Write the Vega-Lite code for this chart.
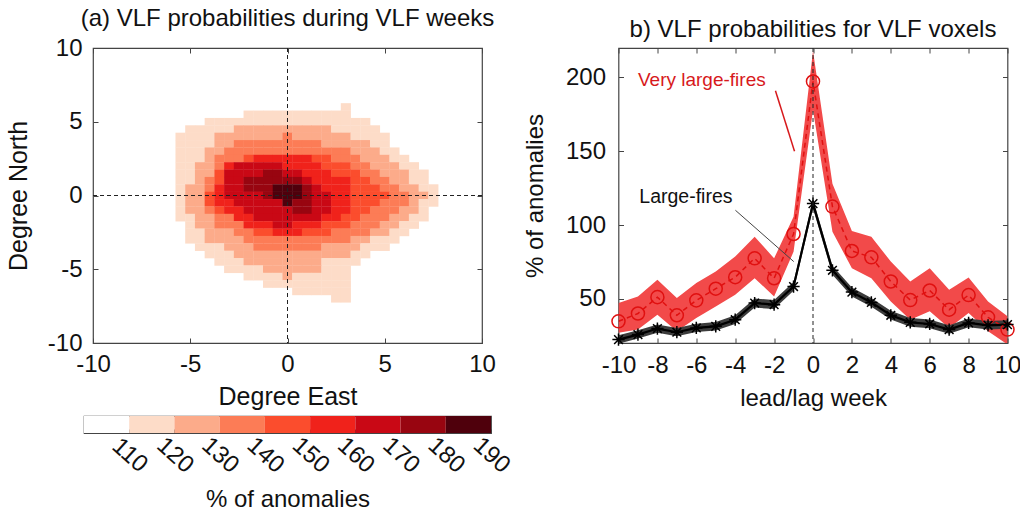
{
  "$schema": "https://vega.github.io/schema/vega-lite/v6.json",
  "background": "white",
  "padding": {"left": 5, "top": 5, "right": 0, "bottom": 5},
  "config": {
    "font": "Liberation Sans",
    "view": {"stroke": "#444", "strokeWidth": 1.2},
    "axis": {"grid": false, "domain": false, "labelFont": "Liberation Sans", "titleFont": "Liberation Sans", "labelFontSize": 24, "titleFontSize": 24, "titleFontWeight": "normal", "labelColor": "#111", "titleColor": "#111", "tickColor": "#444", "tickSize": -5, "labelPadding": 16, "titlePadding": 10, "labelOverlap": false, "labelFlush": false, "labelExpr": "'' + datum.value"},
    "title": {"font": "Liberation Sans", "fontSize": 24, "fontWeight": "normal", "color": "#111", "offset": 5.5}
  },
  "hconcat": [
    {
      "spacing": 73,
      "bounds": "flush",
      "center": true,
      "vconcat": [
        {
          "title": "(a) VLF probabilities during VLF weeks",
          "width": 389,
          "height": 295,
          "data": {"values": [
            {"lon":3,"lat":6,"pct":115},
            {"lon":-2,"lat":5.5,"pct":115},{"lon":-1.5,"lat":5.5,"pct":115},{"lon":-1,"lat":5.5,"pct":115},{"lon":-0.5,"lat":5.5,"pct":115},{"lon":0,"lat":5.5,"pct":115},{"lon":0.5,"lat":5.5,"pct":115},{"lon":1,"lat":5.5,"pct":115},{"lon":1.5,"lat":5.5,"pct":115},{"lon":2,"lat":5.5,"pct":115},{"lon":2.5,"lat":5.5,"pct":115},{"lon":3,"lat":5.5,"pct":115},
            {"lon":-4,"lat":5,"pct":115},{"lon":-3.5,"lat":5,"pct":115},{"lon":-3,"lat":5,"pct":115},{"lon":-2.5,"lat":5,"pct":115},{"lon":-2,"lat":5,"pct":115},{"lon":-1.5,"lat":5,"pct":115},{"lon":-1,"lat":5,"pct":115},{"lon":-0.5,"lat":5,"pct":115},{"lon":0,"lat":5,"pct":115},{"lon":0.5,"lat":5,"pct":115},{"lon":1,"lat":5,"pct":115},{"lon":1.5,"lat":5,"pct":115},{"lon":2,"lat":5,"pct":115},{"lon":2.5,"lat":5,"pct":115},{"lon":3,"lat":5,"pct":115},{"lon":3.5,"lat":5,"pct":115},{"lon":4,"lat":5,"pct":115},
            {"lon":-5,"lat":4.5,"pct":115},{"lon":-4.5,"lat":4.5,"pct":115},{"lon":-4,"lat":4.5,"pct":115},{"lon":-3.5,"lat":4.5,"pct":115},{"lon":-3,"lat":4.5,"pct":115},{"lon":-2.5,"lat":4.5,"pct":125},{"lon":-2,"lat":4.5,"pct":125},{"lon":-1.5,"lat":4.5,"pct":125},{"lon":-1,"lat":4.5,"pct":125},{"lon":-0.5,"lat":4.5,"pct":125},{"lon":0,"lat":4.5,"pct":125},{"lon":0.5,"lat":4.5,"pct":125},{"lon":1,"lat":4.5,"pct":125},{"lon":1.5,"lat":4.5,"pct":125},{"lon":2,"lat":4.5,"pct":125},{"lon":2.5,"lat":4.5,"pct":115},{"lon":3,"lat":4.5,"pct":115},{"lon":3.5,"lat":4.5,"pct":115},{"lon":4,"lat":4.5,"pct":115},{"lon":4.5,"lat":4.5,"pct":115},
            {"lon":-5.5,"lat":4,"pct":115},{"lon":-5,"lat":4,"pct":115},{"lon":-4.5,"lat":4,"pct":115},{"lon":-4,"lat":4,"pct":115},{"lon":-3.5,"lat":4,"pct":125},{"lon":-3,"lat":4,"pct":125},{"lon":-2.5,"lat":4,"pct":125},{"lon":-2,"lat":4,"pct":125},{"lon":-1.5,"lat":4,"pct":125},{"lon":-1,"lat":4,"pct":125},{"lon":-0.5,"lat":4,"pct":125},{"lon":0,"lat":4,"pct":135},{"lon":0.5,"lat":4,"pct":125},{"lon":1,"lat":4,"pct":125},{"lon":1.5,"lat":4,"pct":125},{"lon":2,"lat":4,"pct":125},{"lon":2.5,"lat":4,"pct":125},{"lon":3,"lat":4,"pct":125},{"lon":3.5,"lat":4,"pct":115},{"lon":4,"lat":4,"pct":115},{"lon":4.5,"lat":4,"pct":115},{"lon":5,"lat":4,"pct":115},
            {"lon":-5.5,"lat":3.5,"pct":115},{"lon":-5,"lat":3.5,"pct":115},{"lon":-4.5,"lat":3.5,"pct":115},{"lon":-4,"lat":3.5,"pct":115},{"lon":-3.5,"lat":3.5,"pct":125},{"lon":-3,"lat":3.5,"pct":125},{"lon":-2.5,"lat":3.5,"pct":135},{"lon":-2,"lat":3.5,"pct":135},{"lon":-1.5,"lat":3.5,"pct":135},{"lon":-1,"lat":3.5,"pct":135},{"lon":-0.5,"lat":3.5,"pct":135},{"lon":0,"lat":3.5,"pct":135},{"lon":0.5,"lat":3.5,"pct":135},{"lon":1,"lat":3.5,"pct":135},{"lon":1.5,"lat":3.5,"pct":135},{"lon":2,"lat":3.5,"pct":125},{"lon":2.5,"lat":3.5,"pct":125},{"lon":3,"lat":3.5,"pct":125},{"lon":3.5,"lat":3.5,"pct":125},{"lon":4,"lat":3.5,"pct":125},{"lon":4.5,"lat":3.5,"pct":115},{"lon":5,"lat":3.5,"pct":115},
            {"lon":-5.5,"lat":3,"pct":115},{"lon":-5,"lat":3,"pct":115},{"lon":-4.5,"lat":3,"pct":115},{"lon":-4,"lat":3,"pct":125},{"lon":-3.5,"lat":3,"pct":125},{"lon":-3,"lat":3,"pct":135},{"lon":-2.5,"lat":3,"pct":135},{"lon":-2,"lat":3,"pct":135},{"lon":-1.5,"lat":3,"pct":135},{"lon":-1,"lat":3,"pct":135},{"lon":-0.5,"lat":3,"pct":135},{"lon":0,"lat":3,"pct":135},{"lon":0.5,"lat":3,"pct":135},{"lon":1,"lat":3,"pct":135},{"lon":1.5,"lat":3,"pct":135},{"lon":2,"lat":3,"pct":135},{"lon":2.5,"lat":3,"pct":135},{"lon":3,"lat":3,"pct":135},{"lon":3.5,"lat":3,"pct":125},{"lon":4,"lat":3,"pct":125},{"lon":4.5,"lat":3,"pct":125},{"lon":5,"lat":3,"pct":115},{"lon":5.5,"lat":3,"pct":115},
            {"lon":-5.5,"lat":2.5,"pct":115},{"lon":-5,"lat":2.5,"pct":115},{"lon":-4.5,"lat":2.5,"pct":115},{"lon":-4,"lat":2.5,"pct":125},{"lon":-3.5,"lat":2.5,"pct":135},{"lon":-3,"lat":2.5,"pct":135},{"lon":-2.5,"lat":2.5,"pct":135},{"lon":-2,"lat":2.5,"pct":145},{"lon":-1.5,"lat":2.5,"pct":155},{"lon":-1,"lat":2.5,"pct":155},{"lon":-0.5,"lat":2.5,"pct":155},{"lon":0,"lat":2.5,"pct":155},{"lon":0.5,"lat":2.5,"pct":155},{"lon":1,"lat":2.5,"pct":155},{"lon":1.5,"lat":2.5,"pct":145},{"lon":2,"lat":2.5,"pct":145},{"lon":2.5,"lat":2.5,"pct":135},{"lon":3,"lat":2.5,"pct":135},{"lon":3.5,"lat":2.5,"pct":135},{"lon":4,"lat":2.5,"pct":125},{"lon":4.5,"lat":2.5,"pct":125},{"lon":5,"lat":2.5,"pct":125},{"lon":5.5,"lat":2.5,"pct":115},{"lon":6,"lat":2.5,"pct":115},
            {"lon":-5.5,"lat":2,"pct":115},{"lon":-5,"lat":2,"pct":115},{"lon":-4.5,"lat":2,"pct":125},{"lon":-4,"lat":2,"pct":125},{"lon":-3.5,"lat":2,"pct":135},{"lon":-3,"lat":2,"pct":155},{"lon":-2.5,"lat":2,"pct":165},{"lon":-2,"lat":2,"pct":165},{"lon":-1.5,"lat":2,"pct":165},{"lon":-1,"lat":2,"pct":165},{"lon":-0.5,"lat":2,"pct":165},{"lon":0,"lat":2,"pct":155},{"lon":0.5,"lat":2,"pct":155},{"lon":1,"lat":2,"pct":155},{"lon":1.5,"lat":2,"pct":155},{"lon":2,"lat":2,"pct":145},{"lon":2.5,"lat":2,"pct":145},{"lon":3,"lat":2,"pct":145},{"lon":3.5,"lat":2,"pct":135},{"lon":4,"lat":2,"pct":135},{"lon":4.5,"lat":2,"pct":125},{"lon":5,"lat":2,"pct":125},{"lon":5.5,"lat":2,"pct":125},{"lon":6,"lat":2,"pct":115},{"lon":6.5,"lat":2,"pct":115},
            {"lon":-5.5,"lat":1.5,"pct":115},{"lon":-5,"lat":1.5,"pct":115},{"lon":-4.5,"lat":1.5,"pct":125},{"lon":-4,"lat":1.5,"pct":125},{"lon":-3.5,"lat":1.5,"pct":145},{"lon":-3,"lat":1.5,"pct":165},{"lon":-2.5,"lat":1.5,"pct":165},{"lon":-2,"lat":1.5,"pct":165},{"lon":-1.5,"lat":1.5,"pct":165},{"lon":-1,"lat":1.5,"pct":175},{"lon":-0.5,"lat":1.5,"pct":175},{"lon":0,"lat":1.5,"pct":165},{"lon":0.5,"lat":1.5,"pct":165},{"lon":1,"lat":1.5,"pct":155},{"lon":1.5,"lat":1.5,"pct":155},{"lon":2,"lat":1.5,"pct":155},{"lon":2.5,"lat":1.5,"pct":145},{"lon":3,"lat":1.5,"pct":145},{"lon":3.5,"lat":1.5,"pct":145},{"lon":4,"lat":1.5,"pct":135},{"lon":4.5,"lat":1.5,"pct":135},{"lon":5,"lat":1.5,"pct":125},{"lon":5.5,"lat":1.5,"pct":125},{"lon":6,"lat":1.5,"pct":125},{"lon":6.5,"lat":1.5,"pct":115},{"lon":7,"lat":1.5,"pct":115},
            {"lon":-5.5,"lat":1,"pct":115},{"lon":-5,"lat":1,"pct":115},{"lon":-4.5,"lat":1,"pct":125},{"lon":-4,"lat":1,"pct":135},{"lon":-3.5,"lat":1,"pct":145},{"lon":-3,"lat":1,"pct":165},{"lon":-2.5,"lat":1,"pct":165},{"lon":-2,"lat":1,"pct":175},{"lon":-1.5,"lat":1,"pct":175},{"lon":-1,"lat":1,"pct":175},{"lon":-0.5,"lat":1,"pct":175},{"lon":0,"lat":1,"pct":175},{"lon":0.5,"lat":1,"pct":175},{"lon":1,"lat":1,"pct":165},{"lon":1.5,"lat":1,"pct":155},{"lon":2,"lat":1,"pct":155},{"lon":2.5,"lat":1,"pct":155},{"lon":3,"lat":1,"pct":155},{"lon":3.5,"lat":1,"pct":145},{"lon":4,"lat":1,"pct":145},{"lon":4.5,"lat":1,"pct":135},{"lon":5,"lat":1,"pct":135},{"lon":5.5,"lat":1,"pct":125},{"lon":6,"lat":1,"pct":125},{"lon":6.5,"lat":1,"pct":115},{"lon":7,"lat":1,"pct":115},
            {"lon":-5.5,"lat":0.5,"pct":115},{"lon":-5,"lat":0.5,"pct":125},{"lon":-4.5,"lat":0.5,"pct":125},{"lon":-4,"lat":0.5,"pct":135},{"lon":-3.5,"lat":0.5,"pct":155},{"lon":-3,"lat":0.5,"pct":165},{"lon":-2.5,"lat":0.5,"pct":165},{"lon":-2,"lat":0.5,"pct":175},{"lon":-1.5,"lat":0.5,"pct":175},{"lon":-1,"lat":0.5,"pct":175},{"lon":-0.5,"lat":0.5,"pct":185},{"lon":0,"lat":0.5,"pct":185},{"lon":0.5,"lat":0.5,"pct":185},{"lon":1,"lat":0.5,"pct":175},{"lon":1.5,"lat":0.5,"pct":165},{"lon":2,"lat":0.5,"pct":155},{"lon":2.5,"lat":0.5,"pct":155},{"lon":3,"lat":0.5,"pct":155},{"lon":3.5,"lat":0.5,"pct":145},{"lon":4,"lat":0.5,"pct":145},{"lon":4.5,"lat":0.5,"pct":145},{"lon":5,"lat":0.5,"pct":135},{"lon":5.5,"lat":0.5,"pct":135},{"lon":6,"lat":0.5,"pct":125},{"lon":6.5,"lat":0.5,"pct":125},{"lon":7,"lat":0.5,"pct":115},{"lon":7.5,"lat":0.5,"pct":115},
            {"lon":-5.5,"lat":0,"pct":115},{"lon":-5,"lat":0,"pct":125},{"lon":-4.5,"lat":0,"pct":125},{"lon":-4,"lat":0,"pct":145},{"lon":-3.5,"lat":0,"pct":155},{"lon":-3,"lat":0,"pct":165},{"lon":-2.5,"lat":0,"pct":165},{"lon":-2,"lat":0,"pct":165},{"lon":-1.5,"lat":0,"pct":165},{"lon":-1,"lat":0,"pct":175},{"lon":-0.5,"lat":0,"pct":185},{"lon":0,"lat":0,"pct":185},{"lon":0.5,"lat":0,"pct":185},{"lon":1,"lat":0,"pct":175},{"lon":1.5,"lat":0,"pct":165},{"lon":2,"lat":0,"pct":165},{"lon":2.5,"lat":0,"pct":155},{"lon":3,"lat":0,"pct":155},{"lon":3.5,"lat":0,"pct":145},{"lon":4,"lat":0,"pct":145},{"lon":4.5,"lat":0,"pct":145},{"lon":5,"lat":0,"pct":145},{"lon":5.5,"lat":0,"pct":135},{"lon":6,"lat":0,"pct":135},{"lon":6.5,"lat":0,"pct":125},{"lon":7,"lat":0,"pct":125},{"lon":7.5,"lat":0,"pct":115},
            {"lon":-5.5,"lat":-0.5,"pct":115},{"lon":-5,"lat":-0.5,"pct":125},{"lon":-4.5,"lat":-0.5,"pct":125},{"lon":-4,"lat":-0.5,"pct":145},{"lon":-3.5,"lat":-0.5,"pct":155},{"lon":-3,"lat":-0.5,"pct":155},{"lon":-2.5,"lat":-0.5,"pct":165},{"lon":-2,"lat":-0.5,"pct":165},{"lon":-1.5,"lat":-0.5,"pct":165},{"lon":-1,"lat":-0.5,"pct":165},{"lon":-0.5,"lat":-0.5,"pct":165},{"lon":0,"lat":-0.5,"pct":185},{"lon":0.5,"lat":-0.5,"pct":175},{"lon":1,"lat":-0.5,"pct":175},{"lon":1.5,"lat":-0.5,"pct":165},{"lon":2,"lat":-0.5,"pct":165},{"lon":2.5,"lat":-0.5,"pct":155},{"lon":3,"lat":-0.5,"pct":155},{"lon":3.5,"lat":-0.5,"pct":145},{"lon":4,"lat":-0.5,"pct":145},{"lon":4.5,"lat":-0.5,"pct":145},{"lon":5,"lat":-0.5,"pct":135},{"lon":5.5,"lat":-0.5,"pct":135},{"lon":6,"lat":-0.5,"pct":135},{"lon":6.5,"lat":-0.5,"pct":125},{"lon":7,"lat":-0.5,"pct":115},{"lon":7.5,"lat":-0.5,"pct":115},
            {"lon":-5.5,"lat":-1,"pct":115},{"lon":-5,"lat":-1,"pct":125},{"lon":-4.5,"lat":-1,"pct":125},{"lon":-4,"lat":-1,"pct":135},{"lon":-3.5,"lat":-1,"pct":145},{"lon":-3,"lat":-1,"pct":155},{"lon":-2.5,"lat":-1,"pct":155},{"lon":-2,"lat":-1,"pct":165},{"lon":-1.5,"lat":-1,"pct":165},{"lon":-1,"lat":-1,"pct":165},{"lon":-0.5,"lat":-1,"pct":165},{"lon":0,"lat":-1,"pct":165},{"lon":0.5,"lat":-1,"pct":175},{"lon":1,"lat":-1,"pct":175},{"lon":1.5,"lat":-1,"pct":165},{"lon":2,"lat":-1,"pct":165},{"lon":2.5,"lat":-1,"pct":155},{"lon":3,"lat":-1,"pct":155},{"lon":3.5,"lat":-1,"pct":145},{"lon":4,"lat":-1,"pct":145},{"lon":4.5,"lat":-1,"pct":135},{"lon":5,"lat":-1,"pct":135},{"lon":5.5,"lat":-1,"pct":135},{"lon":6,"lat":-1,"pct":125},{"lon":6.5,"lat":-1,"pct":125},{"lon":7,"lat":-1,"pct":115},
            {"lon":-5.5,"lat":-1.5,"pct":115},{"lon":-5,"lat":-1.5,"pct":115},{"lon":-4.5,"lat":-1.5,"pct":125},{"lon":-4,"lat":-1.5,"pct":125},{"lon":-3.5,"lat":-1.5,"pct":135},{"lon":-3,"lat":-1.5,"pct":135},{"lon":-2.5,"lat":-1.5,"pct":155},{"lon":-2,"lat":-1.5,"pct":155},{"lon":-1.5,"lat":-1.5,"pct":165},{"lon":-1,"lat":-1.5,"pct":165},{"lon":-0.5,"lat":-1.5,"pct":165},{"lon":0,"lat":-1.5,"pct":165},{"lon":0.5,"lat":-1.5,"pct":165},{"lon":1,"lat":-1.5,"pct":165},{"lon":1.5,"lat":-1.5,"pct":165},{"lon":2,"lat":-1.5,"pct":155},{"lon":2.5,"lat":-1.5,"pct":155},{"lon":3,"lat":-1.5,"pct":145},{"lon":3.5,"lat":-1.5,"pct":145},{"lon":4,"lat":-1.5,"pct":135},{"lon":4.5,"lat":-1.5,"pct":135},{"lon":5,"lat":-1.5,"pct":135},{"lon":5.5,"lat":-1.5,"pct":125},{"lon":6,"lat":-1.5,"pct":125},{"lon":6.5,"lat":-1.5,"pct":115},{"lon":7,"lat":-1.5,"pct":115},
            {"lon":-5,"lat":-2,"pct":115},{"lon":-4.5,"lat":-2,"pct":125},{"lon":-4,"lat":-2,"pct":125},{"lon":-3.5,"lat":-2,"pct":135},{"lon":-3,"lat":-2,"pct":135},{"lon":-2.5,"lat":-2,"pct":135},{"lon":-2,"lat":-2,"pct":155},{"lon":-1.5,"lat":-2,"pct":155},{"lon":-1,"lat":-2,"pct":155},{"lon":-0.5,"lat":-2,"pct":165},{"lon":0,"lat":-2,"pct":165},{"lon":0.5,"lat":-2,"pct":155},{"lon":1,"lat":-2,"pct":155},{"lon":1.5,"lat":-2,"pct":155},{"lon":2,"lat":-2,"pct":145},{"lon":2.5,"lat":-2,"pct":145},{"lon":3,"lat":-2,"pct":145},{"lon":3.5,"lat":-2,"pct":135},{"lon":4,"lat":-2,"pct":135},{"lon":4.5,"lat":-2,"pct":135},{"lon":5,"lat":-2,"pct":125},{"lon":5.5,"lat":-2,"pct":125},{"lon":6,"lat":-2,"pct":115},{"lon":6.5,"lat":-2,"pct":115},
            {"lon":-5,"lat":-2.5,"pct":115},{"lon":-4.5,"lat":-2.5,"pct":115},{"lon":-4,"lat":-2.5,"pct":125},{"lon":-3.5,"lat":-2.5,"pct":125},{"lon":-3,"lat":-2.5,"pct":125},{"lon":-2.5,"lat":-2.5,"pct":135},{"lon":-2,"lat":-2.5,"pct":135},{"lon":-1.5,"lat":-2.5,"pct":145},{"lon":-1,"lat":-2.5,"pct":145},{"lon":-0.5,"lat":-2.5,"pct":155},{"lon":0,"lat":-2.5,"pct":155},{"lon":0.5,"lat":-2.5,"pct":155},{"lon":1,"lat":-2.5,"pct":145},{"lon":1.5,"lat":-2.5,"pct":145},{"lon":2,"lat":-2.5,"pct":145},{"lon":2.5,"lat":-2.5,"pct":135},{"lon":3,"lat":-2.5,"pct":135},{"lon":3.5,"lat":-2.5,"pct":135},{"lon":4,"lat":-2.5,"pct":135},{"lon":4.5,"lat":-2.5,"pct":125},{"lon":5,"lat":-2.5,"pct":125},{"lon":5.5,"lat":-2.5,"pct":115},{"lon":6,"lat":-2.5,"pct":115},
            {"lon":-5,"lat":-3,"pct":115},{"lon":-4.5,"lat":-3,"pct":115},{"lon":-4,"lat":-3,"pct":125},{"lon":-3.5,"lat":-3,"pct":125},{"lon":-3,"lat":-3,"pct":125},{"lon":-2.5,"lat":-3,"pct":125},{"lon":-2,"lat":-3,"pct":135},{"lon":-1.5,"lat":-3,"pct":135},{"lon":-1,"lat":-3,"pct":135},{"lon":-0.5,"lat":-3,"pct":135},{"lon":0,"lat":-3,"pct":135},{"lon":0.5,"lat":-3,"pct":135},{"lon":1,"lat":-3,"pct":135},{"lon":1.5,"lat":-3,"pct":135},{"lon":2,"lat":-3,"pct":135},{"lon":2.5,"lat":-3,"pct":135},{"lon":3,"lat":-3,"pct":135},{"lon":3.5,"lat":-3,"pct":125},{"lon":4,"lat":-3,"pct":125},{"lon":4.5,"lat":-3,"pct":115},{"lon":5,"lat":-3,"pct":115},{"lon":5.5,"lat":-3,"pct":115},
            {"lon":-4.5,"lat":-3.5,"pct":115},{"lon":-4,"lat":-3.5,"pct":115},{"lon":-3.5,"lat":-3.5,"pct":115},{"lon":-3,"lat":-3.5,"pct":125},{"lon":-2.5,"lat":-3.5,"pct":125},{"lon":-2,"lat":-3.5,"pct":125},{"lon":-1.5,"lat":-3.5,"pct":135},{"lon":-1,"lat":-3.5,"pct":135},{"lon":-0.5,"lat":-3.5,"pct":135},{"lon":0,"lat":-3.5,"pct":135},{"lon":0.5,"lat":-3.5,"pct":135},{"lon":1,"lat":-3.5,"pct":135},{"lon":1.5,"lat":-3.5,"pct":135},{"lon":2,"lat":-3.5,"pct":125},{"lon":2.5,"lat":-3.5,"pct":125},{"lon":3,"lat":-3.5,"pct":125},{"lon":3.5,"lat":-3.5,"pct":125},{"lon":4,"lat":-3.5,"pct":115},{"lon":4.5,"lat":-3.5,"pct":115},{"lon":5,"lat":-3.5,"pct":115},
            {"lon":-4,"lat":-4,"pct":115},{"lon":-3.5,"lat":-4,"pct":115},{"lon":-3,"lat":-4,"pct":115},{"lon":-2.5,"lat":-4,"pct":125},{"lon":-2,"lat":-4,"pct":125},{"lon":-1.5,"lat":-4,"pct":125},{"lon":-1,"lat":-4,"pct":125},{"lon":-0.5,"lat":-4,"pct":125},{"lon":0,"lat":-4,"pct":125},{"lon":0.5,"lat":-4,"pct":125},{"lon":1,"lat":-4,"pct":125},{"lon":1.5,"lat":-4,"pct":125},{"lon":2,"lat":-4,"pct":125},{"lon":2.5,"lat":-4,"pct":125},{"lon":3,"lat":-4,"pct":125},{"lon":3.5,"lat":-4,"pct":115},{"lon":4,"lat":-4,"pct":115},
            {"lon":-3.5,"lat":-4.5,"pct":115},{"lon":-3,"lat":-4.5,"pct":115},{"lon":-2.5,"lat":-4.5,"pct":115},{"lon":-2,"lat":-4.5,"pct":125},{"lon":-1.5,"lat":-4.5,"pct":125},{"lon":-1,"lat":-4.5,"pct":125},{"lon":-0.5,"lat":-4.5,"pct":125},{"lon":0,"lat":-4.5,"pct":125},{"lon":0.5,"lat":-4.5,"pct":125},{"lon":1,"lat":-4.5,"pct":125},{"lon":1.5,"lat":-4.5,"pct":125},{"lon":2,"lat":-4.5,"pct":115},{"lon":2.5,"lat":-4.5,"pct":115},{"lon":3,"lat":-4.5,"pct":115},{"lon":3.5,"lat":-4.5,"pct":115},
            {"lon":-3,"lat":-5,"pct":115},{"lon":-2.5,"lat":-5,"pct":115},{"lon":-2,"lat":-5,"pct":115},{"lon":-1.5,"lat":-5,"pct":115},{"lon":-1,"lat":-5,"pct":125},{"lon":-0.5,"lat":-5,"pct":125},{"lon":0,"lat":-5,"pct":125},{"lon":0.5,"lat":-5,"pct":125},{"lon":1,"lat":-5,"pct":125},{"lon":1.5,"lat":-5,"pct":125},{"lon":2,"lat":-5,"pct":115},{"lon":2.5,"lat":-5,"pct":115},{"lon":3,"lat":-5,"pct":115},
            {"lon":-2,"lat":-5.5,"pct":115},{"lon":-1.5,"lat":-5.5,"pct":115},{"lon":-1,"lat":-5.5,"pct":115},{"lon":-0.5,"lat":-5.5,"pct":115},{"lon":0,"lat":-5.5,"pct":125},{"lon":0.5,"lat":-5.5,"pct":115},{"lon":1,"lat":-5.5,"pct":115},{"lon":1.5,"lat":-5.5,"pct":115},{"lon":2,"lat":-5.5,"pct":115},{"lon":2.5,"lat":-5.5,"pct":115},{"lon":3,"lat":-5.5,"pct":115},
            {"lon":-1,"lat":-6,"pct":115},{"lon":-0.5,"lat":-6,"pct":115},{"lon":0,"lat":-6,"pct":115},{"lon":0.5,"lat":-6,"pct":115},{"lon":1,"lat":-6,"pct":115},{"lon":1.5,"lat":-6,"pct":115},{"lon":2,"lat":-6,"pct":115},{"lon":2.5,"lat":-6,"pct":115},{"lon":3,"lat":-6,"pct":115},
            {"lon":0.5,"lat":-6.5,"pct":115},{"lon":1,"lat":-6.5,"pct":115},{"lon":1.5,"lat":-6.5,"pct":115},{"lon":2,"lat":-6.5,"pct":115},{"lon":2.5,"lat":-6.5,"pct":115},{"lon":3,"lat":-6.5,"pct":115},
            {"lon":2.5,"lat":-7,"pct":115},{"lon":3,"lat":-7,"pct":115}
          ]},
          "layer": [
            {
              "mark": {"type": "point", "shape": "M-1,-0.7584H1V0.7584H-1Z", "size": 102, "filled": true, "opacity": 1, "strokeWidth": 0},
              "encoding": {
                "x": {"field": "lon", "type": "quantitative", "scale": {"domain": [-10, 10], "nice": false, "zero": false}, "axis": {"values": [-10, -5, 0, 5, 10], "title": "Degree East", "titleFontSize": 25, "orient": "bottom", "labelPadding": 14, "titlePadding": 8}},
                "y": {"field": "lat", "type": "quantitative", "scale": {"domain": [-10, 10], "nice": false, "zero": false}, "axis": {"values": [-10, -5, 0, 5, 10], "title": "Degree North", "titleFontSize": 25, "orient": "left", "labelPadding": 16, "titlePadding": 16}},
                "color": {"field": "pct", "type": "quantitative", "scale": {"type": "threshold", "domain": [110, 120, 130, 140, 150, 160, 170, 180], "range": ["#ffffff", "#fddcc8", "#fcab8a", "#fc7c56", "#fb4d2d", "#f0221b", "#c90815", "#980510", "#4f000c"]}, "legend": null}
              }
            },
            {
              "data": {"values": [{"ref": 0}]},
              "mark": {"type": "rule", "strokeDash": [4, 3], "color": "#222", "strokeWidth": 1},
              "encoding": {"x": {"datum": 0, "type": "quantitative", "axis": {"orient": "top", "labels": false, "title": null, "values": [-10, -5, 0, 5, 10]}}}
            },
            {
              "data": {"values": [{"ref": 0}]},
              "mark": {"type": "rule", "strokeDash": [4, 3], "color": "#222", "strokeWidth": 1},
              "encoding": {"y": {"datum": 0, "type": "quantitative", "axis": {"orient": "right", "labels": false, "title": null, "values": [-10, -5, 0, 5, 10]}}}
            }
          ]
        },
        {
          "width": 407,
          "height": 17,
          "data": {"values": [
            {"lo": 100, "hi": 110, "pct": 105}, {"lo": 110, "hi": 120, "pct": 115}, {"lo": 120, "hi": 130, "pct": 125},
            {"lo": 130, "hi": 140, "pct": 135}, {"lo": 140, "hi": 150, "pct": 145}, {"lo": 150, "hi": 160, "pct": 155},
            {"lo": 160, "hi": 170, "pct": 165}, {"lo": 170, "hi": 180, "pct": 175}, {"lo": 180, "hi": 190, "pct": 185}
          ]},
          "mark": {"type": "rect"},
          "encoding": {
            "x": {"field": "lo", "type": "quantitative", "scale": {"domain": [100, 190], "nice": false, "zero": false}, "axis": {"values": [110, 120, 130, 140, 150, 160, 170, 180, 190], "title": "% of anomalies", "labelAngle": 42, "labelAlign": "center", "labelBaseline": "middle", "labelPadding": 26, "titlePadding": 10, "tickSize": -4}},
            "x2": {"field": "hi"},
            "color": {"field": "pct", "type": "quantitative", "scale": {"type": "threshold", "domain": [110, 120, 130, 140, 150, 160, 170, 180], "range": ["#ffffff", "#fddcc8", "#fcab8a", "#fc7c56", "#fb4d2d", "#f0221b", "#c90815", "#980510", "#4f000c"]}, "legend": null}
          }
        }
      ]
    },
    {
      "title": "b) VLF probabilities for VLF voxels",
      "width": 389,
      "height": 295,
      "data": {"values": [
        {"week": -10, "vlf": 34.7, "vlf_lo": 27.0, "vlf_hi": 47.1, "lf": 22.3, "lf_lo": 19.5, "lf_hi": 25.3},
        {"week": -9, "vlf": 40.0, "vlf_lo": 29.1, "vlf_hi": 51.6, "lf": 25.7, "lf_lo": 23.0, "lf_hi": 28.6},
        {"week": -8, "vlf": 51.1, "vlf_lo": 39.2, "vlf_hi": 62.8, "lf": 29.8, "lf_lo": 27.0, "lf_hi": 32.6},
        {"week": -7, "vlf": 38.8, "vlf_lo": 28.0, "vlf_hi": 50.5, "lf": 27.3, "lf_lo": 24.5, "lf_hi": 30.2},
        {"week": -6, "vlf": 48.9, "vlf_lo": 37.0, "vlf_hi": 60.6, "lf": 30.2, "lf_lo": 27.4, "lf_hi": 33.1},
        {"week": -5, "vlf": 56.8, "vlf_lo": 44.8, "vlf_hi": 68.4, "lf": 31.3, "lf_lo": 28.4, "lf_hi": 34.3},
        {"week": -4, "vlf": 64.6, "vlf_lo": 52.7, "vlf_hi": 78.6, "lf": 35.8, "lf_lo": 32.9, "lf_hi": 38.8},
        {"week": -3, "vlf": 77.4, "vlf_lo": 63.9, "vlf_hi": 92.1, "lf": 47.1, "lf_lo": 44.0, "lf_hi": 50.2},
        {"week": -2, "vlf": 63.9, "vlf_lo": 51.6, "vlf_hi": 77.4, "lf": 46.0, "lf_lo": 43.0, "lf_hi": 49.1},
        {"week": -1, "vlf": 93.9, "vlf_lo": 81.9, "vlf_hi": 105.6, "lf": 58.3, "lf_lo": 55.4, "lf_hi": 61.3},
        {"week": 0, "vlf": 197.3, "vlf_lo": 178.0, "vlf_hi": 218.0, "lf": 114.5, "lf_lo": 111.2, "lf_hi": 117.6},
        {"week": 1, "vlf": 112.5, "vlf_lo": 95.4, "vlf_hi": 128.0, "lf": 69.3, "lf_lo": 66.3, "lf_hi": 72.4},
        {"week": 2, "vlf": 82.4, "vlf_lo": 70.7, "vlf_hi": 95.9, "lf": 54.5, "lf_lo": 51.6, "lf_hi": 57.6},
        {"week": 3, "vlf": 78.1, "vlf_lo": 63.9, "vlf_hi": 92.1, "lf": 47.5, "lf_lo": 44.6, "lf_hi": 50.5},
        {"week": 4, "vlf": 61.7, "vlf_lo": 48.2, "vlf_hi": 75.2, "lf": 38.8, "lf_lo": 35.9, "lf_hi": 41.8},
        {"week": 5, "vlf": 49.1, "vlf_lo": 35.8, "vlf_hi": 61.7, "lf": 34.0, "lf_lo": 31.1, "lf_hi": 37.0},
        {"week": 6, "vlf": 55.6, "vlf_lo": 41.5, "vlf_hi": 70.7, "lf": 32.9, "lf_lo": 30.0, "lf_hi": 35.9},
        {"week": 7, "vlf": 42.6, "vlf_lo": 30.2, "vlf_hi": 56.1, "lf": 29.1, "lf_lo": 26.2, "lf_hi": 32.1},
        {"week": 8, "vlf": 52.5, "vlf_lo": 40.4, "vlf_hi": 64.4, "lf": 33.6, "lf_lo": 30.7, "lf_hi": 36.6},
        {"week": 9, "vlf": 37.4, "vlf_lo": 28.0, "vlf_hi": 48.2, "lf": 32.0, "lf_lo": 29.1, "lf_hi": 35.0},
        {"week": 10, "vlf": 29.1, "vlf_lo": 19.0, "vlf_hi": 38.1, "lf": 32.5, "lf_lo": 29.6, "lf_hi": 35.5}
      ]},
      "layer": [
        {
          "mark": {"type": "area", "color": "#f24a4a", "opacity": 1, "clip": true},
          "encoding": {
            "x": {"field": "week", "type": "quantitative", "scale": {"domain": [-10, 10], "nice": false, "zero": false}, "axis": {"values": [-10, -8, -6, -4, -2, 0, 2, 4, 6, 8, 10], "title": "lead/lag week", "orient": "bottom", "labelPadding": 15, "titlePadding": 9}},
            "y": {"field": "vlf_lo", "type": "quantitative", "scale": {"domain": [20, 220], "nice": false, "zero": false}, "axis": {"values": [50, 100, 150, 200], "title": "% of anomalies", "orient": "left", "labelPadding": 18, "titlePadding": 18}},
            "y2": {"field": "vlf_hi"}
          }
        },
        {
          "mark": {"type": "area", "color": "#3d3d3d", "opacity": 1, "clip": true},
          "encoding": {
            "x": {"field": "week", "type": "quantitative", "axis": null},
            "y": {"field": "lf_lo", "type": "quantitative", "axis": {"orient": "right", "labels": false, "title": null, "values": [50, 100, 150, 200]}},
            "y2": {"field": "lf_hi"}
          }
        },
        {
          "mark": {"type": "line", "color": "#e01010", "strokeDash": [5, 4], "strokeWidth": 1.5, "clip": true},
          "encoding": {
            "x": {"field": "week", "type": "quantitative", "axis": null},
            "y": {"field": "vlf", "type": "quantitative", "axis": null}
          }
        },
        {
          "mark": {"type": "line", "color": "#000000", "strokeWidth": 2.2, "clip": true},
          "encoding": {
            "x": {"field": "week", "type": "quantitative", "axis": null},
            "y": {"field": "lf", "type": "quantitative", "axis": null}
          }
        },
        {
          "mark": {"type": "point", "shape": "circle", "size": 170, "filled": false, "color": "#e01010", "strokeWidth": 1.5, "opacity": 1},
          "encoding": {
            "x": {"field": "week", "type": "quantitative", "axis": null},
            "y": {"field": "vlf", "type": "quantitative", "axis": null}
          }
        },
        {
          "mark": {"type": "point", "shape": "M-1,0H1M0,-1V1M-0.71,-0.71L0.71,0.71M-0.71,0.71L0.71,-0.71", "size": 150, "filled": false, "color": "#000000", "strokeWidth": 1.5, "opacity": 1},
          "encoding": {
            "x": {"field": "week", "type": "quantitative", "axis": null},
            "y": {"field": "lf", "type": "quantitative", "axis": null}
          }
        },
        {
          "data": {"values": [{"ref": 0}]},
          "mark": {"type": "rule", "strokeDash": [4, 3], "color": "#222", "strokeWidth": 1},
          "encoding": {"x": {"datum": 0, "type": "quantitative", "axis": {"orient": "top", "labels": false, "title": null, "values": [-10, -8, -6, -4, -2, 0, 2, 4, 6, 8, 10]}}}
        },
        {
          "data": {"values": [{"x1": -1.93, "y1": 191.0, "x2": -0.95, "y2": 150.0}]},
          "mark": {"type": "rule", "color": "#d7191c", "strokeWidth": 1.5},
          "encoding": {
            "x": {"field": "x1", "type": "quantitative", "axis": null},
            "y": {"field": "y1", "type": "quantitative", "axis": null},
            "x2": {"field": "x2"},
            "y2": {"field": "y2"}
          }
        },
        {
          "data": {"values": [{"x1": -3.99, "y1": 110.0, "x2": -0.99, "y2": 75.2}]},
          "mark": {"type": "rule", "color": "#444444", "strokeWidth": 1},
          "encoding": {
            "x": {"field": "x1", "type": "quantitative", "axis": null},
            "y": {"field": "y1", "type": "quantitative", "axis": null},
            "x2": {"field": "x2"},
            "y2": {"field": "y2"}
          }
        },
        {
          "data": {"values": [{"x": -9.0, "y": 198.6, "label": "Very large-fires"}]},
          "mark": {"type": "text", "align": "left", "baseline": "middle", "fontSize": 19, "color": "#d7191c", "font": "Liberation Sans"},
          "encoding": {
            "x": {"field": "x", "type": "quantitative", "axis": null},
            "y": {"field": "y", "type": "quantitative", "axis": null},
            "text": {"field": "label"}
          }
        },
        {
          "data": {"values": [{"x": -8.93, "y": 119.0, "label": "Large-fires"}]},
          "mark": {"type": "text", "align": "left", "baseline": "middle", "fontSize": 19.5, "color": "#111111", "font": "Liberation Sans"},
          "encoding": {
            "x": {"field": "x", "type": "quantitative", "axis": null},
            "y": {"field": "y", "type": "quantitative", "axis": null},
            "text": {"field": "label"}
          }
        }
      ]
    }
  ],
  "spacing": 7.5
}
